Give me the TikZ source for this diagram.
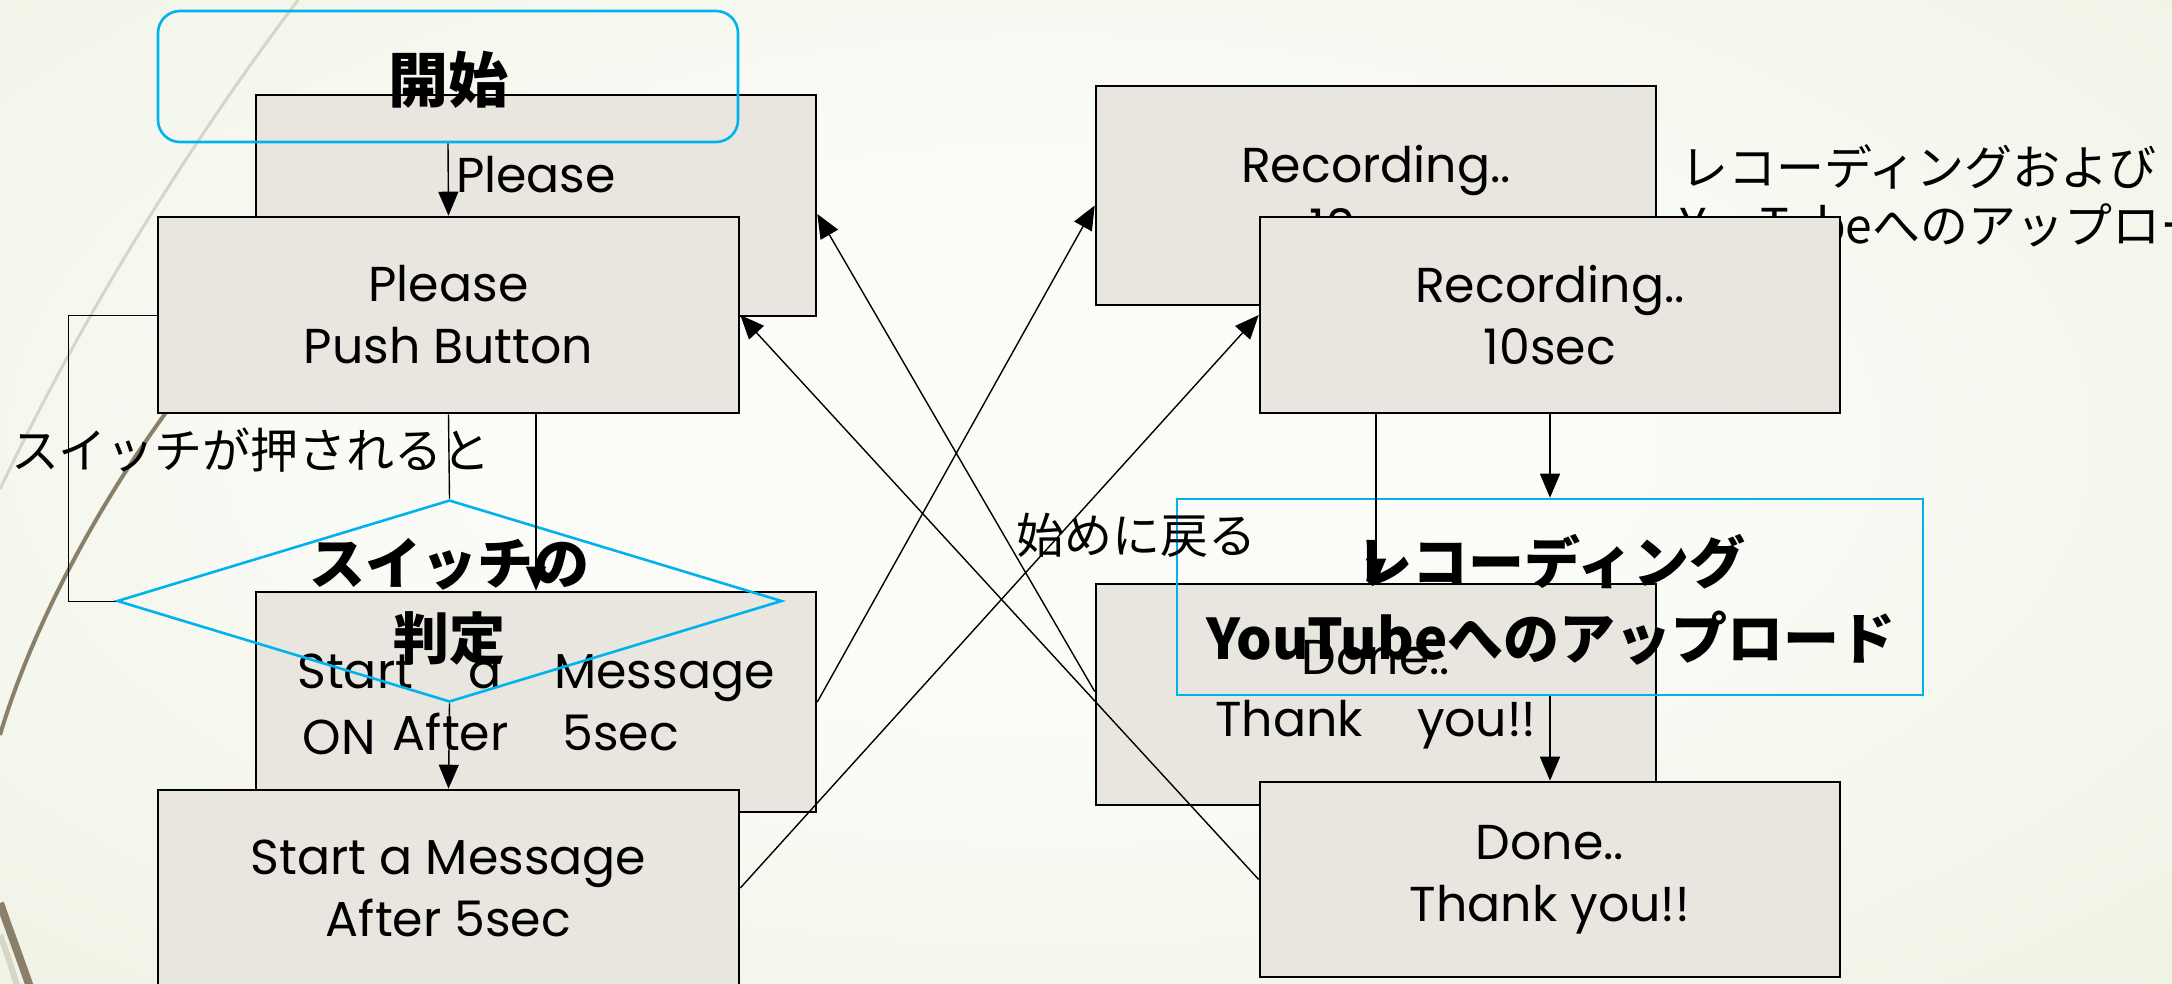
\documentclass[tikz,border=0pt]{standalone}
\usepackage{fontspec}
\usetikzlibrary{shapes.geometric,arrows.meta,calc}
\newfontfamily\jp{Noto Sans CJK JP}
\newfontfamily\latfont{Poppins}
\definecolor{bgin}{RGB}{251,252,248}
\definecolor{bgout}{RGB}{230,236,214}
\definecolor{arcLight}{RGB}{214,214,198}
\definecolor{arcDark}{RGB}{138,128,106}
\definecolor{boxfill}{RGB}{233,230,224}
\definecolor{cy}{RGB}{0,178,238}
\pgfdeclareradialshading{bgshade}{\pgfpoint{0bp}{0bp}}{color(0bp)=(bgin); color(12bp)=(bgin); color(50bp)=(bgout)}
\tikzset{
  boxnode/.style={draw=black, line width=2.6pt, fill=boxfill, rectangle, inner sep=0pt, align=center,
    font=\latfont\fontsize{49}{62}\selectfont},
  conn/.style={line width=1.4pt, -{Triangle[length=24pt,width=20pt]}},
  plainconn/.style={line width=1.4pt},
  cyanshape/.style={draw=cy, line width=2.6pt, inner sep=0pt},
  jpbold/.style={inner sep=0pt, align=center, font=\jp\bfseries\fontsize{56}{75}\selectfont},
  jpreg/.style={inner sep=0pt, font=\jp\fontsize{48}{58}\selectfont}
}
\begin{document}
\begin{tikzpicture}[x=1pt,y=-1pt]
\useasboundingbox (0,0) rectangle (2172,983);
\clip (0,0) rectangle (2172,983);
% background
\fill[bgout] (-60,-110) rectangle (2250,1100);
\shade[shading=bgshade] (-100,-120) rectangle (2200,1000);
% decorative arcs
\draw[arcLight, line width=3pt] (298,0) .. controls (200,130) and (90,300) .. (0,489);
\draw[arcDark, line width=4pt] (215,350) .. controls (130,450) and (40,600) .. (0,735);
\draw[arcLight, line width=6pt] (0,935) .. controls (6,950) and (12,968) .. (18,990);
\draw[arcDark, line width=8pt] (0,903) .. controls (10,932) and (20,958) .. (31,990);

% back boxes
\node[boxnode, minimum width=560pt, minimum height=221pt] (bb1) at (536,205.5) {Please\\Push Button};
\node[boxnode, minimum width=560pt, minimum height=219pt] (bbR1) at (1376,195.5) {Recording..\\10sec};
\node[boxnode, minimum width=560pt, minimum height=220pt] (bb2) at (536,702) {Start\hspace{55pt}a\hspace{53pt}Message\\After\hspace{54pt}5sec};
\node[boxnode, minimum width=560pt, minimum height=221pt] (bbR2) at (1376,694.5) {Done..\\Thank\hspace{54pt}you!!};

% loose labels under front boxes
\node[inner sep=0pt, font=\latfont\fontsize{49}{62}\selectfont] (onlbl) at (339,737) {ON};
\node[jpreg, anchor=north west, align=left] (reclbl) at (1680,144) {レコーディングおよび\\YouTubeへのアップロード};

% front boxes
\node[boxnode, minimum width=581pt, minimum height=196pt] (fb1) at (448.5,315) {Please\\Push Button};
\node[boxnode, minimum width=580pt, minimum height=196pt] (fbR1) at (1550,315) {Recording..\\10sec};
\node[boxnode, minimum width=581pt, minimum height=196pt] (fb2) at (448.5,888) {Start a Message\\After 5sec};
\node[boxnode, minimum width=580pt, minimum height=195pt] (fbR2) at (1550,879.5) {Done..\\Thank you!!};

% cyan shapes
\node[cyanshape, rounded corners=22pt, minimum width=580pt, minimum height=131pt] (start) at (448,76.5) {};
\node[cyanshape, diamond, minimum width=665pt, minimum height=202pt] (dia) at (449.5,601) {};
\node[cyanshape, rectangle, minimum width=746pt, minimum height=196pt] (up) at (1550,597) {};
\node[jpbold, font=\jp\bfseries\fontsize{60}{75}\selectfont] (startlbl) at (448,80) {開始};
\node[jpbold] (dialbl) at (449.5,602) {スイッチの\\判定};
\node[jpbold, font=\jp\bfseries\fontsize{56}{76}\selectfont] (uplbl) at (1551,600) {レコーディング\\YouTubeへのアップロード};

% other labels
\node[jpreg] (pushlbl) at (251,450) {スイッチが押されると};
\node[jpreg] (backlbl) at (1136,535) {始めに戻る};

% connectors
\draw[conn] (start.south) -- (fb1.north);
\draw[plainconn] (fb1.south) -- (dia.north);
\draw[conn] (bb2.north |- fb1.south) -- (bb2.north);
\draw[line width=1pt] (fb1.west) -- ++(-88,0) |- (dia.west);
\draw[conn] (dia.south) -- (fb2.north);
\draw[conn] (fb2.east) -- (fbR1.west);
\draw[conn] (bb2.east) -- ([yshift=-10pt]bbR1.west);
\draw[conn] (bbR2.north |- fbR1.south) -- (bbR2.north);
\draw[conn] (fbR1.south) -- (up.north);
\draw[conn] (up.south) -- (fbR2.north);
\draw[conn] (fbR2.west) -- (fb1.east);
\draw[conn] ([yshift=3pt]bbR2.west) -- ([yshift=-8.5pt]bb1.east);
\end{tikzpicture}
\end{document}
